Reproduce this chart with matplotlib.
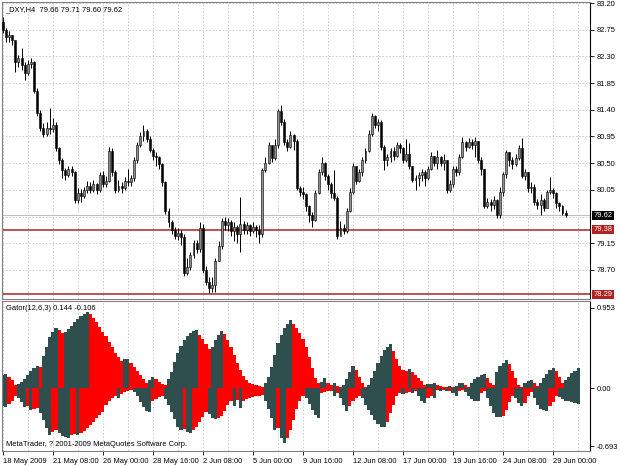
import numpy as np
import matplotlib.pyplot as plt

# H4 candles, 18 May 2009 16:00 ... 29 Jun 2009 16:00 (open of each bar = previous close)
first_open = 82.88
close = [82.75, 82.62, 82.66, 82.58, 82.20, 82.28, 82.15, 82.02, 82.18, 82.20,
         81.72, 81.35, 81.10, 81.00, 81.10, 81.08, 81.15, 80.75, 80.55, 80.38,
         80.30, 80.40, 80.35, 79.88, 80.00, 79.95, 80.05, 80.12, 80.05, 80.15,
         80.05, 80.30, 80.15, 80.20, 80.70, 80.35, 80.05, 80.12, 80.08, 80.20,
         80.18, 80.25, 80.55, 80.80, 80.95, 81.05, 80.90, 80.72, 80.62, 80.60,
         80.48, 80.18, 79.70, 79.50, 79.38, 79.28, 79.32, 79.25, 78.65, 78.75,
         78.95, 79.15, 79.05, 79.40, 78.70, 78.50, 78.40, 78.45, 78.85, 79.10,
         79.52, 79.45, 79.50, 79.35, 79.42, 79.30, 79.48, 79.38, 79.45, 79.35,
         79.42, 79.38, 79.30, 80.38, 80.50, 80.80, 80.58, 80.80, 81.38, 81.20,
         80.85, 80.78, 80.98, 80.88, 80.08, 80.02, 79.98, 79.78, 79.62, 79.55,
         80.00, 80.35, 80.50, 80.28, 80.15, 80.00, 79.92, 79.28, 79.40, 79.35,
         79.70, 80.02, 80.45, 80.20, 80.35, 80.55, 80.70, 81.00, 81.30, 81.15,
         81.20, 80.78, 80.55, 80.60, 80.70, 80.62, 80.80, 80.75, 80.55, 80.65,
         80.45, 80.22, 80.25, 80.30, 80.35, 80.25, 80.40, 80.62, 80.50, 80.60,
         80.50, 80.55, 80.05, 80.15, 80.40, 80.35, 80.60, 80.85, 80.78, 80.85,
         80.80, 80.88, 80.55, 80.40, 79.78, 79.85, 79.80, 79.88, 79.62, 80.02,
         80.32, 80.68, 80.55, 80.48, 80.58, 80.75, 80.28, 80.35, 80.08, 80.10,
         79.85, 79.80, 79.88, 79.75, 80.02, 80.05, 80.00, 79.82, 79.78, 79.66,
         79.62]
high = [82.96, 82.78, 82.72, 82.66, 82.56, 82.32, 82.44, 82.20, 82.24, 82.28,
        82.22, 81.76, 81.40, 81.18, 81.20, 81.43, 81.26, 81.20, 80.78, 80.58,
        80.42, 80.45, 80.46, 80.36, 80.08, 80.06, 80.10, 80.20, 80.18, 80.22,
        80.16, 80.35, 80.36, 80.28, 80.77, 80.75, 80.38, 80.22, 80.18, 80.26,
        80.40, 80.30, 80.60, 80.85, 81.02, 81.14, 81.08, 80.95, 80.75, 80.68,
        80.62, 80.50, 80.20, 79.74, 79.55, 79.42, 79.40, 79.38, 79.30, 78.90,
        79.00, 79.20, 79.20, 79.50, 79.48, 78.76, 78.58, 78.58, 78.90, 79.18,
        79.58, 79.60, 79.58, 79.54, 79.50, 79.46, 79.93, 79.52, 79.50, 79.48,
        79.50, 79.45, 79.45, 80.42, 80.60, 80.86, 80.78, 80.90, 81.42, 81.48,
        81.25, 80.90, 81.04, 81.00, 80.90, 80.12, 80.10, 80.00, 79.80, 79.68,
        80.05, 80.40, 80.60, 80.52, 80.32, 80.18, 80.38, 79.95, 79.52, 79.48,
        79.75, 80.08, 80.50, 80.42, 80.40, 80.60, 80.75, 81.06, 81.35, 81.32,
        81.25, 81.22, 80.80, 80.65, 80.75, 80.78, 80.85, 80.84, 80.78, 80.90,
        80.84, 80.45, 80.30, 80.35, 80.40, 80.38, 80.45, 80.68, 80.62, 80.72,
        80.62, 80.65, 80.55, 80.22, 80.45, 80.45, 80.65, 80.94, 80.88, 80.92,
        80.90, 80.94, 80.88, 80.60, 80.40, 79.92, 79.90, 79.95, 79.90, 80.10,
        80.35, 80.72, 80.68, 80.60, 80.65, 80.80, 80.92, 80.40, 80.35, 80.18,
        80.15, 79.90, 79.98, 79.92, 80.05, 80.27, 80.08, 80.02, 79.85, 79.80,
        79.71]
low = [82.69, 82.54, 82.55, 82.50, 82.04, 82.12, 82.07, 81.90, 81.98, 82.10,
       81.68, 81.30, 81.05, 80.94, 80.96, 81.00, 81.02, 80.70, 80.48, 80.25,
       80.22, 80.27, 80.28, 79.83, 79.83, 79.85, 79.92, 80.00, 80.00, 80.02,
       79.98, 80.02, 80.10, 80.10, 80.18, 80.28, 80.00, 80.02, 80.00, 80.05,
       80.12, 80.12, 80.20, 80.50, 80.78, 80.88, 80.85, 80.68, 80.55, 80.45,
       80.40, 80.12, 79.65, 79.42, 79.30, 79.22, 79.20, 79.12, 78.60, 78.62,
       78.70, 78.90, 78.98, 79.00, 78.65, 78.45, 78.31, 78.33, 78.32, 78.85,
       79.05, 79.38, 79.35, 79.28, 79.18, 79.15, 79.00, 79.30, 79.30, 79.28,
       79.32, 79.25, 79.15, 79.25, 80.35, 80.48, 80.52, 80.55, 80.75, 81.15,
       80.80, 80.70, 80.75, 80.72, 80.05, 79.95, 79.90, 79.70, 79.50, 79.43,
       79.52, 79.98, 80.30, 80.22, 80.05, 79.92, 79.88, 79.22, 79.30, 79.30,
       79.32, 79.68, 79.98, 80.15, 80.18, 80.28, 80.50, 80.68, 80.95, 81.10,
       81.05, 80.72, 80.38, 80.45, 80.52, 80.55, 80.60, 80.67, 80.50, 80.52,
       80.40, 80.18, 80.05, 80.12, 80.20, 80.12, 80.22, 80.38, 80.45, 80.40,
       80.45, 80.38, 79.99, 80.02, 80.10, 80.28, 80.30, 80.58, 80.70, 80.75,
       80.74, 80.60, 80.50, 80.30, 79.74, 79.75, 79.70, 79.72, 79.57, 79.58,
       79.95, 80.25, 80.45, 80.40, 80.45, 80.55, 80.25, 80.22, 80.02, 80.00,
       79.80, 79.72, 79.62, 79.70, 79.75, 79.98, 79.92, 79.75, 79.70, 79.62,
       79.60]

# Gator(12,6,3): upper histogram and lower histogram (absolute value)
gator_up = [0.155, 0.167, 0.127, 0.096, 0.032, 0.048, 0.076, 0.112, 0.151, 0.199,
            0.235, 0.267, 0.255, 0.382, 0.494, 0.606, 0.669, 0.709, 0.685, 0.653,
            0.669, 0.701, 0.741, 0.781, 0.821, 0.853, 0.884, 0.908, 0.884, 0.833,
            0.781, 0.725, 0.669, 0.614, 0.550, 0.486, 0.422, 0.367, 0.319, 0.343,
            0.351, 0.303, 0.255, 0.207, 0.155, 0.104, 0.064, 0.096, 0.135, 0.104,
            0.072, 0.048, 0.032, 0.104, 0.195, 0.315, 0.414, 0.502, 0.566, 0.614,
            0.653, 0.673, 0.685, 0.633, 0.582, 0.526, 0.470, 0.494, 0.566, 0.633,
            0.673, 0.645, 0.574, 0.486, 0.394, 0.303, 0.215, 0.143, 0.096, 0.064,
            0.044, 0.032, 0.024, 0.016, 0.056, 0.135, 0.255, 0.394, 0.534, 0.633,
            0.713, 0.765, 0.805, 0.765, 0.713, 0.653, 0.582, 0.494, 0.375, 0.235,
            0.116, 0.056, 0.076, 0.116, 0.064, 0.036, 0.056, 0.024, 0.008, 0.036,
            0.104, 0.195, 0.263, 0.215, 0.127, 0.056, 0.008, 0.036, 0.116, 0.207,
            0.295, 0.382, 0.454, 0.494, 0.526, 0.446, 0.343, 0.263, 0.215, 0.207,
            0.227, 0.191, 0.159, 0.124, 0.084, 0.036, 0.048, 0.052, 0.056, 0.036,
            0.024, 0.016, 0.008, 0.024, 0.016, 0.024, 0.056, 0.064, 0.036, 0.008,
            0.064, 0.104, 0.135, 0.155, 0.167, 0.116, 0.064, 0.036, 0.195, 0.263,
            0.303, 0.335, 0.287, 0.207, 0.116, 0.036, 0.016, 0.056, 0.084, 0.096,
            0.056, 0.024, 0.064, 0.116, 0.167, 0.215, 0.235, 0.207, 0.135, 0.056,
            0.096, 0.135, 0.175, 0.207, 0.235]
gator_dn = [0.215, 0.225, 0.185, 0.150, 0.095, 0.120, 0.170, 0.225, 0.215, 0.260,
            0.245, 0.235, 0.300, 0.380, 0.480, 0.560, 0.520, 0.500, 0.540, 0.570,
            0.580, 0.590, 0.560, 0.545, 0.555, 0.540, 0.510, 0.480, 0.440, 0.400,
            0.360, 0.320, 0.280, 0.200, 0.160, 0.120, 0.090, 0.120, 0.070, 0.050,
            0.030, 0.020, 0.050, 0.100, 0.170, 0.230, 0.270, 0.285, 0.150, 0.130,
            0.110, 0.090, 0.130, 0.200, 0.280, 0.370, 0.460, 0.500, 0.490, 0.520,
            0.540, 0.500, 0.460, 0.400, 0.340, 0.290, 0.310, 0.360, 0.370, 0.360,
            0.330, 0.270, 0.200, 0.160, 0.220, 0.140, 0.240, 0.160, 0.130, 0.120,
            0.110, 0.100, 0.090, 0.080, 0.150, 0.250, 0.360, 0.500, 0.480, 0.600,
            0.660, 0.600, 0.500, 0.380, 0.250, 0.160, 0.100, 0.120, 0.190, 0.260,
            0.320, 0.360, 0.060, 0.050, 0.040, 0.030, 0.090, 0.060, 0.120, 0.200,
            0.270, 0.220, 0.160, 0.120, 0.090, 0.120, 0.200, 0.260, 0.320, 0.380,
            0.430, 0.460, 0.470, 0.400, 0.300, 0.200, 0.100, 0.060, 0.070, 0.060,
            0.050, 0.060, 0.040, 0.100, 0.150, 0.180, 0.120, 0.090, 0.120, 0.020,
            0.030, 0.020, 0.040, 0.030, 0.060, 0.100, 0.040, 0.020, 0.050, 0.090,
            0.130, 0.150, 0.160, 0.060, 0.040, 0.120, 0.220, 0.300, 0.340, 0.350,
            0.330, 0.260, 0.170, 0.100, 0.120, 0.180, 0.220, 0.180, 0.100, 0.050,
            0.120, 0.200, 0.250, 0.260, 0.270, 0.220, 0.170, 0.100, 0.110, 0.130,
            0.150, 0.160, 0.170, 0.180, 0.185]

date_labels = ['18 May 2009', '21 May 08:00', '26 May 00:00', '28 May 16:00',
               '2 Jun 08:00', '5 Jun 00:00', '9 Jun 16:00', '12 Jun 08:00',
               '17 Jun 00:00', '19 Jun 16:00', '24 Jun 08:00', '29 Jun 00:00']
price_ticks = [83.20, 82.75, 82.30, 81.85, 81.40, 80.95, 80.50, 80.05, 79.15, 78.70]
grid_prices = [83.20, 82.75, 82.30, 81.85, 81.40, 80.95, 80.50, 80.05, 79.60, 79.15, 78.70]
level_lines = [79.38, 78.29]
bid = 79.62
title = '_DXY,H4  79.66 79.71 79.60 79.62'
gator_title = 'Gator(12,6,3) 0.144 -0.106'
gator_ticks = [0.953, 0.0, -0.693]

DARK = '#2f4f4f'
RED = '#ff0000'
LEVEL = '#b22222'
GRID = '#c8c8c8'
FS = 5.4

plt.rcParams['font.family'] = ['Liberation Sans', 'DejaVu Sans']

close = np.array(close)
high = np.array(high)
low = np.array(low)
opens = np.concatenate([[first_open], close[:-1]])
n = len(close)
x = np.arange(n)

fig = plt.figure(figsize=(6.2, 4.65), dpi=100)
ax = fig.add_axes([2 / 620, 1 - 299 / 465, 588 / 620, 297 / 465])
axg = fig.add_axes([2 / 620, 1 - 451 / 465, 588 / 620, 150 / 465], sharex=ax)

xmax = 187.8
for a in (ax, axg):
    a.set_xlim(-0.25, xmax)
    for k in range(0, int(xmax) + 1, 8):
        a.axvline(k, color=GRID, lw=0.6, ls=(0, (2, 2)), zorder=0)
    a.yaxis.tick_right()
    a.tick_params(axis='y', length=3, width=0.6, pad=2, labelsize=FS, colors='black')
    for s in ('left', 'top', 'bottom'):
        a.spines[s].set_color('#808080')
        a.spines[s].set_linewidth(0.8)
    a.spines['right'].set_color('black')
    a.spines['right'].set_linewidth(0.8)

# ---- price panel
ax.set_ylim(78.21, 83.217)
for p in grid_prices:
    ax.axhline(p, color=GRID, lw=0.6, ls=(0, (2, 2)), zorder=0)
ax.axhline(bid, color='#c0c0c0', lw=0.8, zorder=1)
for lv in level_lines:
    ax.axhline(lv, color=LEVEL, lw=1.1, zorder=1)

ax.vlines(x, low, high, color='black', lw=0.7, zorder=2)
bull = close >= opens
body_lo = np.minimum(opens, close)
body_h = np.maximum(np.abs(close - opens), 0.012)
ax.bar(x[bull], body_h[bull], bottom=body_lo[bull], width=0.62,
       color='#8c8c8c', edgecolor='black', linewidth=0.4, zorder=3)
ax.bar(x[~bull], body_h[~bull], bottom=body_lo[~bull], width=0.62,
       color='black', edgecolor='black', linewidth=0.4, zorder=3)

ax.set_yticks(price_ticks)
ax.set_yticklabels(['%.2f' % p for p in price_ticks])
ax.tick_params(axis='x', bottom=False, labelbottom=False)
ytr = ax.get_yaxis_transform()
ax.text(1.006, bid, '%.2f' % bid, transform=ytr, ha='left', va='center',
        fontsize=FS, color='white',
        bbox=dict(boxstyle='square,pad=0.15', fc='black', ec='none'))
for lv in level_lines:
    ax.text(1.006, lv, '%.2f' % lv, transform=ytr, ha='left', va='center',
            fontsize=FS, color='white',
            bbox=dict(boxstyle='square,pad=0.15', fc=LEVEL, ec='none'))
ax.text(0.006, 0.985, title, transform=ax.transAxes, ha='left', va='top', fontsize=FS)

# ---- gator panel
up = np.array(gator_up)
dn = np.array(gator_dn)
gx = np.arange(len(up))
up_col = [DARK]
for i in range(1, len(up)):
    if up[i] > up[i - 1]:
        up_col.append(DARK)
    elif up[i] < up[i - 1]:
        up_col.append(RED)
    else:
        up_col.append(up_col[-1])
dn_col = [DARK]
for i in range(1, len(dn)):
    if dn[i] > dn[i - 1]:
        dn_col.append(DARK)
    elif dn[i] < dn[i - 1]:
        dn_col.append(RED)
    else:
        dn_col.append(dn_col[-1])
axg.bar(gx, up, width=1.0, color=up_col, linewidth=0, zorder=2)
axg.bar(gx, -dn, width=1.0, color=dn_col, linewidth=0, zorder=2)
axg.set_ylim(-0.75, 1.036)
axg.set_yticks(gator_ticks)
axg.set_yticklabels(['0.953', '0.00', '-0.693'])
axg.text(0.006, 0.975, gator_title, transform=axg.transAxes, ha='left', va='top', fontsize=FS)
axg.text(0.006, 0.02, 'MetaTrader, ? 2001-2009 MetaQuotes Software Corp.',
         transform=axg.transAxes, ha='left', va='bottom', fontsize=FS)

axg.set_xticks(np.arange(len(date_labels)) * 16)
axg.set_xticklabels(date_labels)
axg.tick_params(axis='x', length=3, width=0.6, pad=2, labelsize=FS, direction='out')
for t in axg.get_xticklabels():
    t.set_horizontalalignment('left')

fig.savefig('out.png', dpi=100)
